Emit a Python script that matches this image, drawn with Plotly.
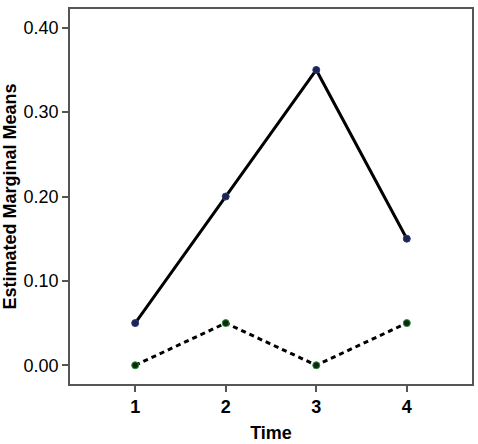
import plotly.graph_objects as go

# Estimated marginal means by time, two groups
time_points = [1, 2, 3, 4]
group_a_means = [0.05, 0.20, 0.35, 0.15]
group_b_means = [0.00, 0.05, 0.00, 0.05]
y_tick_values = [0.0, 0.1, 0.2, 0.3, 0.4]

fig = go.Figure()

# solid line series
fig.add_trace(go.Scatter(
    x=time_points, y=group_a_means,
    mode='lines+markers',
    line=dict(color='black', width=3),
    marker=dict(size=7, color='#1c2450', line=dict(width=1, color='#2b3a7a')),
    showlegend=False
))

# dashed line series
fig.add_trace(go.Scatter(
    x=time_points, y=group_b_means,
    mode='lines+markers',
    line=dict(color='black', width=3, dash='5px,4px'),
    marker=dict(size=7, color='#0f2a12', line=dict(width=1, color='#2e8a3a')),
    showlegend=False
))

axis_font = dict(family='Liberation Sans, Arial, sans-serif', size=18, color='black')

fig.update_layout(
    width=478, height=444,
    margin=dict(l=70, r=4, t=9, b=55),
    plot_bgcolor='white', paper_bgcolor='white',
    xaxis=dict(
        range=[0.28, 4.72],
        tickvals=time_points,
        ticktext=[f'<b>{t}</b>' for t in time_points],
        tickfont=axis_font,
        ticks='outside', ticklen=6, tickcolor='#555555', tickwidth=1.5,
        showline=True, linecolor='#555555', linewidth=1.5, mirror=True,
        showgrid=False, zeroline=False,
        title=dict(text='<b>Time</b>', font=axis_font, standoff=10),
    ),
    yaxis=dict(
        range=[-0.0222, 0.4222],
        tickvals=y_tick_values,
        tickformat='.2f',
        tickfont=axis_font,
        ticks='outside', ticklen=6, tickcolor='#555555', tickwidth=1.5,
        showline=True, linecolor='#555555', linewidth=1.5, mirror=True,
        showgrid=False, zeroline=False,
        title=dict(text='<b>Estimated Marginal Means</b>', font=axis_font, standoff=6),
    ),
)

fig.write_html("out.html", config={'displayModeBar': False},
               post_script="document.body.style.margin='0';")
